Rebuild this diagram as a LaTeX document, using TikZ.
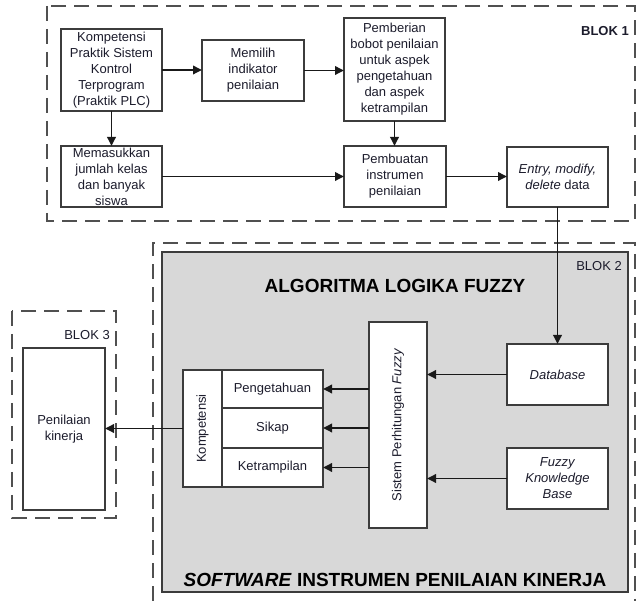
\documentclass[tikz,border=0pt]{standalone}
\usepackage{fontspec}
\setmainfont{Liberation Sans}
\usetikzlibrary{arrows.meta}

\definecolor{ink}{RGB}{28,28,44}
\definecolor{edge}{RGB}{60,60,60}
\definecolor{dashc}{RGB}{80,80,80}
\definecolor{panel}{RGB}{216,216,216}

\tikzset{
  dims/.style 2 args={minimum width=#1pt, minimum height=#2pt},
  box/.style={draw=edge, line width=1.3pt, fill=white, rectangle, align=center,
              inner sep=1pt, outer sep=0pt, text=ink, font=\fontsize{13}{16}\selectfont},
  blok/.style={draw=dashc, line width=2pt, dash pattern=on 15pt off 8pt},
  flow/.style={draw=black!90, line width=1.8pt, -{Triangle[length=9pt,width=8.5pt]}},
  tag/.style={font=\fontsize{13}{16}\selectfont, text=ink, inner sep=0pt, anchor=east},
  vtext/.style={rotate=90, font=\fontsize{13}{16}\selectfont, text=ink, inner sep=0pt},
  title/.style={font=\bfseries\fontsize{19}{22}\selectfont, text=black, inner sep=0pt}
}

\begin{document}
\begin{tikzpicture}[x=1pt,y=-1pt]
\useasboundingbox (0,0) rectangle (638,601);

% ---- BLOK 1: preparing the assessment instrument ----
\draw[blok] (47,6) rectangle (635,221);
\node[tag, font=\bfseries\fontsize{13}{16}\selectfont] (b1) at (629,31.5) {BLOK 1};

\node[box, dims={101}{82}] (komp) at (111.5,70)
  {Kompetensi\\Praktik Sistem\\Kontrol\\Terprogram\\(Praktik PLC)};
\node[box, dims={102}{61}] (memilih) at (253,70.5)
  {Memilih\\indikator\\penilaian};
\node[box, dims={101}{103}] (pemberian) at (394.5,69.5)
  {Pemberian\\bobot penilaian\\untuk aspek\\pengetahuan\\dan aspek\\ketrampilan};
\node[box, dims={101}{61}] (masuk) at (111.5,176.5)
  {Memasukkan\\jumlah kelas\\dan banyak\\siswa};
\node[box, dims={102}{61}] (pembuatan) at (395,176.5)
  {Pembuatan\\instrumen\\penilaian};
\node[box, dims={101}{60}] (entry) at (557.5,177)
  {\textit{Entry, modify,}\\\textit{delete} data};

% ---- BLOK 2: fuzzy logic software ----
\draw[blok] (153,601) -- (153,243) -- (635,243) -- (635,601);
\node[draw=edge, line width=1.2pt, fill=panel, dims={466}{340}, inner sep=0pt] (panel) at (395,422) {};
\node[tag] (b2) at (622,266.5) {BLOK 2};
\node[title] (algo) at (395,286) {ALGORITMA LOGIKA FUZZY};
\node[title] (soft) at (395,580) {\textit{SOFTWARE} INSTRUMEN PENILAIAN KINERJA};

\node[box, dims={58}{206}] (sistem) at (398,425) {};
\node[vtext] (sistemtxt) at (sistem.center) {Sistem Perhitungan \textit{Fuzzy}};

\node[box, dims={101}{61}] (database) at (557.5,374.5) {\textit{Database}};
\node[box, dims={101}{61}] (fkb) at (557.5,478.5) {\textit{Fuzzy}\\\textit{Knowledge}\\\textit{Base}};

\node[box, dims={39}{117}] (kompcell) at (202.5,428.5) {};
\node[vtext] (komptxt) at (kompcell.center) {Kompetensi};
\node[box, dims={101}{38}] (peng) at (272.5,389) {Pengetahuan};
\node[box, dims={101}{40}] (sikap) at (272.5,428) {Sikap};
\node[box, dims={101}{39}] (ketr) at (272.5,467.5) {Ketrampilan};

% ---- BLOK 3: performance assessment ----
\draw[blok] (12,311) rectangle (116,518);
\node[tag] (b3) at (110,335) {BLOK 3};
\node[box, dims={82}{162}] (penilaian) at (64,429) {Penilaian\\kinerja};

% ---- connectors ----
\draw[flow] (komp.east) -- (komp.east -| memilih.west);
\draw[flow] (memilih.east) -- (memilih.east -| pemberian.west);
\draw[flow] (komp.south) -- (masuk.north);
\draw[flow] (pemberian.south) -- (pemberian.south |- pembuatan.north);
\draw[flow] (masuk.east) -- (masuk.east -| pembuatan.west);
\draw[flow] (pembuatan.east) -- (pembuatan.east -| entry.west);
\draw[flow] (entry.south) -- (database.north);
\draw[flow] (database.west) -- (database.west -| sistem.east);
\draw[flow] (fkb.west) -- (fkb.west -| sistem.east);
\draw[flow] (sistem.west |- peng.east) -- (peng.east);
\draw[flow] (sistem.west |- sikap.east) -- (sikap.east);
\draw[flow] (sistem.west |- ketr.east) -- (ketr.east);
\draw[flow] (kompcell.west) -- (kompcell.west -| penilaian.east);
\end{tikzpicture}
\end{document}
